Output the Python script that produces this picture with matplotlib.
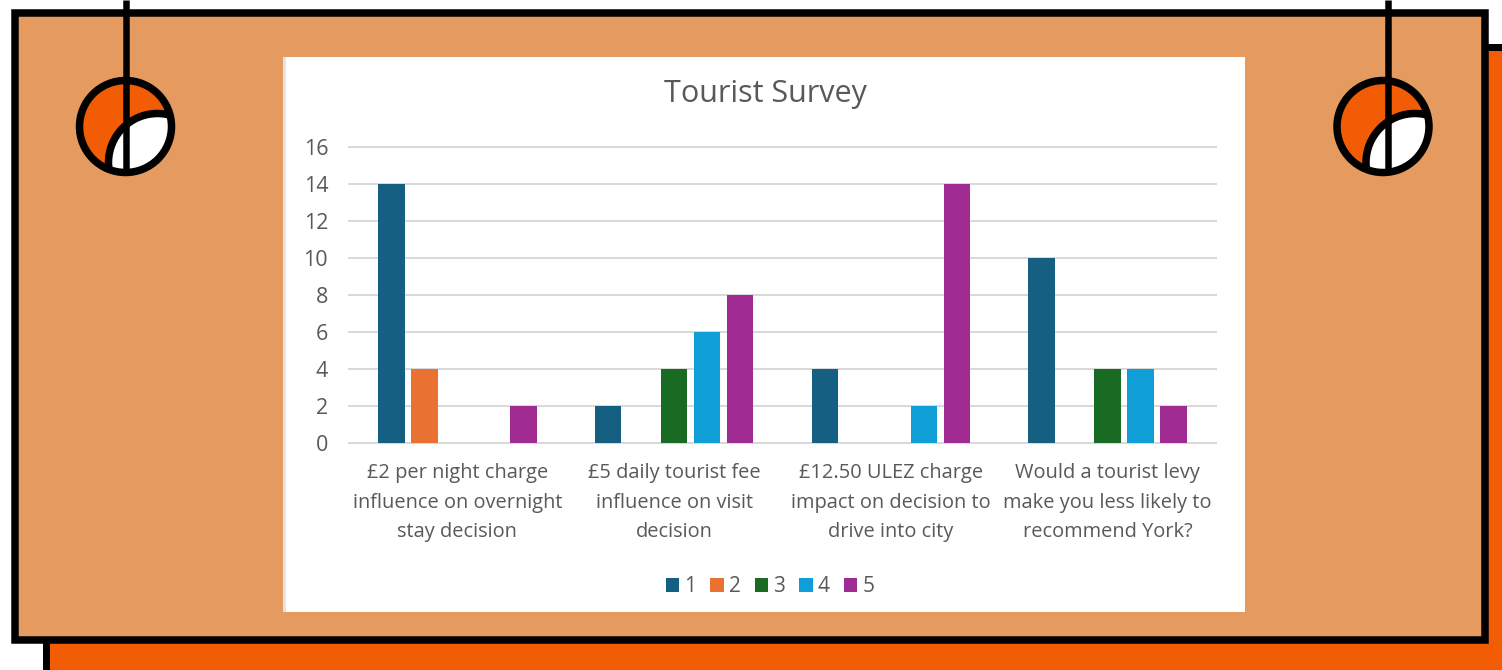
import matplotlib
matplotlib.use("Agg")
import numpy as np
import matplotlib.pyplot as plt
from matplotlib.patches import Rectangle, Circle

questions = [
    "£2 per night charge\ninfluence on overnight\nstay decision",
    "£5 daily tourist fee\ninfluence on visit\ndecision",
    "£12.50 ULEZ charge\nimpact on decision to\ndrive into city",
    "Would a tourist levy\nmake you less likely to\nrecommend York?",
]
ratings = ["1", "2", "3", "4", "5"]
rating_1 = [14, 2, 4, 10]
rating_2 = [4, 0, 0, 0]
rating_3 = [0, 4, 0, 4]
rating_4 = [0, 6, 2, 4]
rating_5 = [2, 8, 14, 2]
bar_colors = ["#156082", "#E97132", "#196B24", "#0F9ED5", "#A02B93"]

W, H = 1502, 670
PEACH = "#E59B60"
ORANGE = "#F25C05"
TEXT = "#595959"
GRID = "#D9D9D9"

plt.rcParams["font.family"] = ["Open Sans", "DejaVu Sans"]

fig = plt.figure(figsize=(W / 100, H / 100), dpi=100, facecolor="white")

# pixel-coordinate layer for the poster frame behind the chart
bg = fig.add_axes([0, 0, 1, 1])
bg.set_xlim(0, W)
bg.set_ylim(H, 0)
bg.axis("off")


def px(v):
    return v * 0.72


bg.add_patch(Rectangle((46, 46.5), W + 20, H, fc=ORANGE, ec="black", lw=px(7)))
bg.add_patch(Rectangle((14.5, 13), 1470.5, 626.5, fc=PEACH, ec="black", lw=px(7.5)))
bg.add_patch(Rectangle((283, 57), 962, 555, fc="white", ec="none"))
bg.add_patch(Rectangle((283, 57), 3, 555, fc="#E3E3E8", ec="none"))


def hanger(cx, line_x, cy=126.5):
    disc = Circle((cx, cy), 46, fc=ORANGE, ec="none", zorder=3)
    bg.add_patch(disc)
    inner = Circle((cx + 32, cy + 36), 49, fc="white", ec="black", lw=px(7.5), zorder=4)
    bg.add_patch(inner)
    inner.set_clip_path(disc)
    bg.plot([line_x, line_x], [0, cy + 46], color="black", lw=px(6.5),
            solid_capstyle="butt", zorder=5)
    bg.add_patch(Circle((cx, cy), 46, fc="none", ec="black", lw=px(7.5), zorder=6))


hanger(125.5, 126)
hanger(1383, 1388)

# survey bar chart
ax = fig.add_axes([349 / W, 1 - 443 / H, 867 / W, 296 / H])
ax.patch.set_alpha(0)

series = [rating_1, rating_2, rating_3, rating_4, rating_5]
x = np.arange(len(questions))
step = 0.1523
handles = []
for i, values in enumerate(series):
    bars = ax.bar(x + (i - 2) * step, values, width=0.1225, color=bar_colors[i],
                  label=ratings[i], zorder=3)
    handles.append(bars)

ax.set_xlim(-0.5, 3.5)
ax.set_ylim(0, 16)
ax.set_yticks(range(0, 17, 2))
ax.set_xticks(x)
ax.set_xticklabels(questions, linespacing=1.63)
ax.tick_params(axis="x", length=0, colors=TEXT, labelsize=14.4, pad=14.5)
ax.tick_params(axis="y", length=0, colors=TEXT, labelsize=15.5, pad=15)
ax.yaxis.grid(True, color=GRID, lw=px(2), zorder=0, clip_on=False)
ax.set_axisbelow(True)
for side in ["top", "right", "left"]:
    ax.spines[side].set_visible(False)
ax.spines["bottom"].set_color(GRID)
ax.spines["bottom"].set_linewidth(px(2))
for lab in ax.get_xticklabels():
    lab.set_ha("center")

bg.text(765, 94, "Tourist Survey", ha="center", va="center", fontsize=22, color=TEXT)

ax.legend(handles=handles, loc="center", bbox_to_anchor=(770 / W, 1 - 587 / H),
          bbox_transform=fig.transFigure, ncols=5, frameon=False, fontsize=15,
          labelcolor=TEXT, handlelength=0.65, handleheight=0.65, handletextpad=0.25,
          columnspacing=0.66, borderpad=0)

fig.savefig("out.png", dpi=100)
plt.close(fig)
